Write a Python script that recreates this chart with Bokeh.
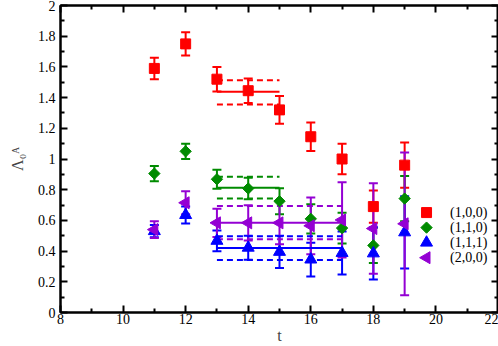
import numpy as np
from bokeh.plotting import figure
from bokeh.models import (ColumnDataSource, Whisker, TeeHead, LinearAxis, Range1d,
                          FixedTicker, NumeralTickFormatter)
from bokeh.core.properties import value
from bokeh.embed import file_html
from bokeh.resources import INLINE

# ---------------- data ----------------
t = [11, 12, 13, 14, 15, 16, 17, 18, 19]

labels = ["(1,0,0)", "(1,1,0)", "(1,1,1)", "(2,0,0)"]
colors = ["#ff0000", "#008b00", "#0000ff", "#9400d3"]

v100 = [1.59, 1.75, 1.52, 1.445, 1.32, 1.145, 1.00, 0.69, 0.96]
e100 = [0.07, 0.075, 0.08, 0.08, 0.09, 0.093, 0.10, 0.105, 0.147]

v110 = [0.905, 1.05, 0.868, 0.808, 0.725, 0.61, 0.55, 0.437, 0.742]
e110 = [0.05, 0.05, 0.062, 0.07, 0.085, 0.095, 0.10, 0.115, 0.147]

v111 = [0.53, 0.635, 0.467, 0.422, 0.395, 0.345, 0.388, 0.385, 0.522]
e111 = [0.04, 0.055, 0.068, 0.078, 0.105, 0.11, 0.14, 0.17, 0.235]

v200 = [0.54, 0.715, 0.584, 0.584, 0.584, 0.565, 0.603, 0.547, 0.578]
e200 = [0.055, 0.075, 0.092, 0.115, 0.14, 0.185, 0.245, 0.295, 0.465]

# plateau fits: start, end, central value, lower, upper
fit_start = [13, 13, 13, 13]
fit_end = [15, 15, 17, 17]
fit_val = [1.438, 0.812, 0.42, 0.584]
fit_lo = [1.355, 0.743, 0.342, 0.477]
fit_hi = [1.513, 0.884, 0.497, 0.693]

x_ticks = [8, 10, 12, 14, 16, 18, 20, 22]
x_minor = [9, 11, 13, 15, 17, 19, 21]
y_ticks = [0, 0.2, 0.4, 0.6, 0.8, 1.0, 1.2, 1.4, 1.6, 1.8, 2.0]
y_minor = [0.1, 0.3, 0.5, 0.7, 0.9, 1.1, 1.3, 1.5, 1.7, 1.9]

series_vals = [v100, v110, v111, v200]
series_errs = [e100, e110, e111, e200]

FONT = "Liberation Serif"

p = figure(width=498, height=346, x_range=Range1d(8, 22), y_range=Range1d(0, 2),
           output_backend="svg", toolbar_location=None,
           min_border_left=60, min_border_right=0, min_border_top=5, min_border_bottom=4)
p.xgrid.visible = False
p.ygrid.visible = False
p.outline_line_color = "black"
p.outline_line_width = 2
p.background_fill_color = "white"
p.border_fill_color = "white"

def style_axis(ax, ticks, minor, show_labels=True):
    ax.ticker = FixedTicker(ticks=ticks, minor_ticks=minor)
    ax.major_tick_in = 7
    ax.major_tick_out = 0
    ax.minor_tick_in = 4
    ax.minor_tick_out = 0
    ax.major_tick_line_width = 2
    ax.minor_tick_line_width = 2
    ax.axis_line_width = 2
    ax.major_label_text_font = FONT
    ax.major_label_text_font_size = "14px"
    ax.major_label_text_color = "black"
    ax.major_label_standoff = 1
    if not show_labels:
        ax.major_label_text_color = None
        ax.major_label_text_font_size = "1px"
        ax.major_label_standoff = 0
        ax.axis_label_standoff = 0

style_axis(p.xaxis[0], x_ticks, x_minor)
style_axis(p.yaxis[0], y_ticks, y_minor)
p.yaxis[0].formatter = NumeralTickFormatter(format="0.[0]")
p.yaxis[0].major_label_standoff = 5
p.xaxis[0].axis_label = "t"
p.yaxis[0].axis_label = "Λ₀ᴬ"
for ax in (p.xaxis[0], p.yaxis[0]):
    ax.axis_label_text_font = FONT
    ax.axis_label_text_font_size = "16px"
    ax.axis_label_text_font_style = "normal"
    ax.axis_label_standoff = 0
p.yaxis[0].axis_label_standoff = 9

top_ax = LinearAxis()
right_ax = LinearAxis()
style_axis(top_ax, x_ticks, x_minor, show_labels=False)
style_axis(right_ax, y_ticks, y_minor, show_labels=False)
p.add_layout(top_ax, "above")
p.add_layout(right_ax, "right")

# fits
for i in range(4):
    c = colors[i]
    p.segment(x0=[fit_start[i]], y0=[fit_val[i]], x1=[fit_end[i]], y1=[fit_val[i]],
              line_color=c, line_width=2)
    p.segment(x0=[fit_start[i]] * 2, y0=[fit_lo[i], fit_hi[i]],
              x1=[fit_end[i]] * 2, y1=[fit_lo[i], fit_hi[i]],
              line_color=c, line_width=2, line_dash="6 4")

markers = [("square", 10, 0.0), ("square", 8, np.pi / 4),
           ("triangle", 12, 0.0), ("triangle", 12, np.pi / 2)]
for i in range(4):
    c = colors[i]
    v = np.array(series_vals[i])
    e = np.array(series_errs[i])
    src = ColumnDataSource(dict(t=t, v=v, lo=v - e, hi=v + e))
    w = Whisker(base="t", upper="hi", lower="lo", source=src, line_color=c, line_width=2,
                upper_head=TeeHead(size=9, line_color=c, line_width=2),
                lower_head=TeeHead(size=9, line_color=c, line_width=2))
    p.add_layout(w)
    m, s, a = markers[i]
    p.scatter("t", "v", source=src, marker=m, size=s, angle=a,
              fill_color=c, line_color=c)

# legend key (drawn by hand so the rotated markers keep their orientation)
key_x = 19.7
key_label_x = 20.45
key_top = 0.651
key_step = 0.098
for i in range(4):
    m, s, a = markers[i]
    ky = key_top - i * key_step
    p.scatter(x=[key_x], y=[ky], marker=m, size=s, angle=a,
              fill_color=colors[i], line_color=colors[i])
    p.text(x=[key_label_x], y=[ky], text=[labels[i]], text_font=value(FONT),
           text_font_size="14px", text_baseline="middle", text_align="left",
           text_color="black")

open("out.html", "w").write(file_html(p, INLINE))
